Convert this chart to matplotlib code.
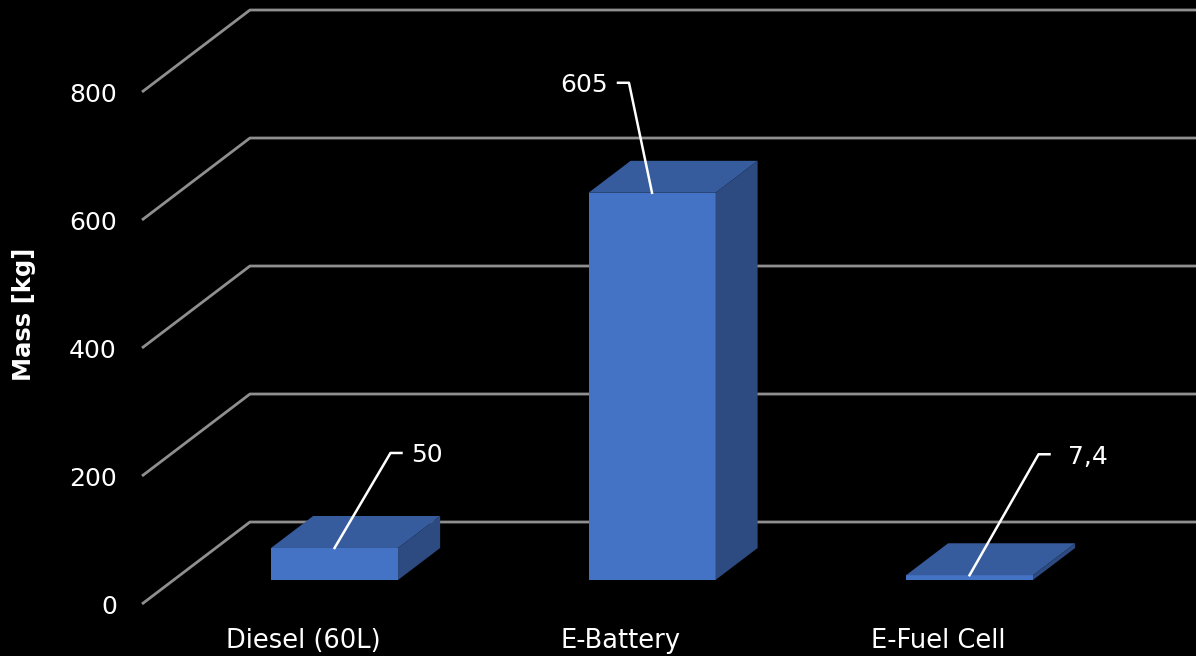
import matplotlib.pyplot as plt
from matplotlib.patches import Polygon
from matplotlib.transforms import ScaledTranslation

categories = ['Diesel (60L)', 'E-Battery', 'E-Fuel Cell']
mass = [50, 605, 7.4]
yticks = [0, 200, 400, 600, 800]

# perspective / layout
DX, DY = 0.340, 128.1          # full depth offset of the floor (x units, value units)
F1, F2 = 0.293, 0.683          # front / back depth of the bars as fraction of full depth
W = 0.4
front_col, top_col, side_col = '#4472C4', '#375C9E', '#2D4B81'
grid_col = '#8f8f8f'
# leader line offsets in points: elbow, end of horizontal, text position, ha
label_offsets = [((40.3, 68.4), (48.2, 68.4), (55.4, 67), 'left'),
                 ((-16.6, 79.2), (-24.5, 79.2), (-31.7, 77.8), 'right'),
                 ((49.7, 87.1), (57.6, 87.1), (70.6, 85), 'left')]

plt.rcParams['font.family'] = ['DejaVu Sans']
fig = plt.figure(figsize=(11.96, 6.56), dpi=100, facecolor='black')
ax = fig.add_axes([142/1196, 52/656, 1054/1196, 604/656])
ax.set_facecolor('black')
xl, xr = -0.5068, 2.813
ax.set_xlim(xl, xr)
ax.set_ylim(0, 943.75)
for s in ax.spines.values():
    s.set_visible(False)

# walls / gridlines
for v in yticks:
    ax.plot([xl, xl + DX, xr + 0.2], [v, v + DY, v + DY], color=grid_col, lw=2,
            solid_capstyle='butt', clip_on=False, zorder=1)

for i, v in enumerate(mass):
    x0 = i - W / 2 + F1 * DX
    x1 = x0 + W
    b1, b2 = F1 * DY, F2 * DY
    s = (F2 - F1) * DX
    ax.bar(x0 + W / 2, v, width=W, bottom=b1, color=front_col, zorder=3)
    ax.add_patch(Polygon([(x0, b1 + v), (x1, b1 + v), (x1 + s, b2 + v), (x0 + s, b2 + v)],
                         closed=True, facecolor=top_col, edgecolor='none', zorder=3))
    ax.add_patch(Polygon([(x1, b1), (x1 + s, b2), (x1 + s, b2 + v), (x1, b1 + v)],
                         closed=True, facecolor=side_col, edgecolor='none', zorder=3))

    # data label with leader line
    ax_pt = i + F1 * DX, v + b1
    (ex, ey), (hx, hy), (tx, ty), ha = label_offsets[i]
    tr_e = ax.transData + ScaledTranslation(ex / 72, ey / 72, fig.dpi_scale_trans)
    tr_h = ax.transData + ScaledTranslation(hx / 72, hy / 72, fig.dpi_scale_trans)
    tr_t = ax.transData + ScaledTranslation(tx / 72, ty / 72, fig.dpi_scale_trans)
    p0 = ax.transData.transform(ax_pt)
    p1 = tr_e.transform(ax_pt)
    p2 = tr_h.transform(ax_pt)
    fig.add_artist(plt.Line2D([p0[0], p1[0], p2[0]], [p0[1], p1[1], p2[1]],
                              transform=None, color='white', lw=1.8, zorder=5))
    ax.text(*ax_pt, f'{v:g}'.replace('.', ','), transform=tr_t, ha=ha, va='center',
            color='white', fontsize=18, zorder=5)

ax.set_yticks(yticks)
ax.set_yticklabels([str(t) for t in yticks])
ax.set_xticks([0, 1, 2])
ax.set_xticklabels(categories)
ax.tick_params(axis='y', length=0, pad=18, colors='white', labelsize=18)
ax.tick_params(axis='x', length=0, pad=17, colors='white', labelsize=18.5)
ax.set_ylabel('Mass [kg]', color='white', fontsize=17.5, fontweight='bold')
ax.yaxis.set_label_coords(-0.1005, 0.48)

fig.savefig('out.png', dpi=100, facecolor='black')
